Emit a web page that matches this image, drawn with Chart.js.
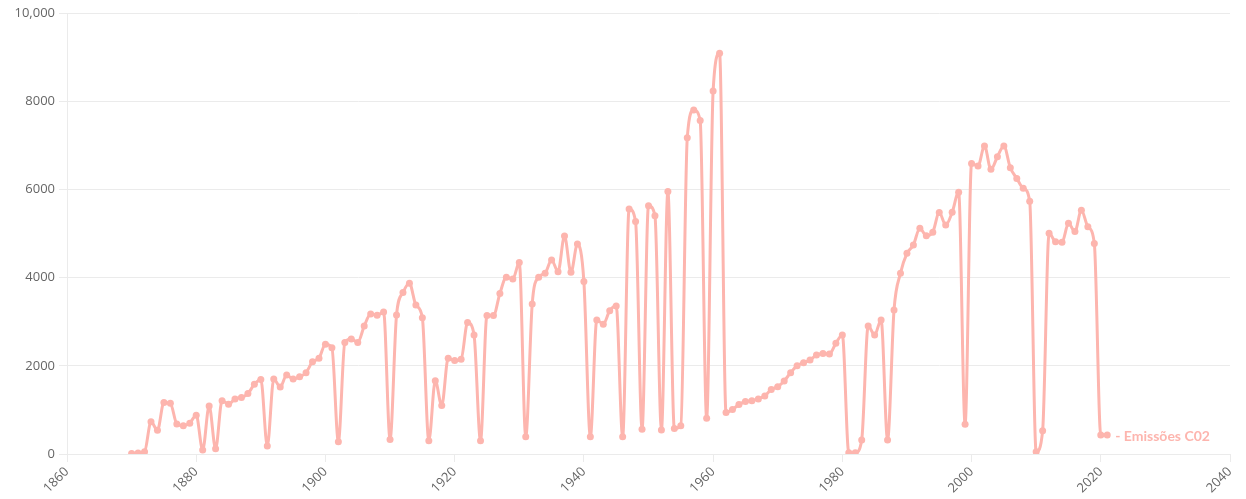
<!DOCTYPE html>
<html>
<head>
<meta charset="utf-8">
<script src="https://cdn.jsdelivr.net/npm/chart.js@4"></script>
<style>
  html, body { margin: 0; padding: 0; background: #fff; }
  #wrap { width: 1246px; height: 499px; }
</style>
</head>
<body>
<div id="wrap"><canvas id="co2Chart"></canvas></div>
<script>
    var years = [
      1870, 1871, 1872, 1873, 1874, 1875, 1876, 1877, 1878, 1879,
      1880, 1881, 1882, 1883, 1884, 1885, 1886, 1887, 1888, 1889,
      1890, 1891, 1892, 1893, 1894, 1895, 1896, 1897, 1898, 1899,
      1900, 1901, 1902, 1903, 1904, 1905, 1906, 1907, 1908, 1909,
      1910, 1911, 1912, 1913, 1914, 1915, 1916, 1917, 1918, 1919,
      1920, 1921, 1922, 1923, 1924, 1925, 1926, 1927, 1928, 1929,
      1930, 1931, 1932, 1933, 1934, 1935, 1936, 1937, 1938, 1939,
      1940, 1941, 1942, 1943, 1944, 1945, 1946, 1947, 1948, 1949,
      1950, 1951, 1952, 1953, 1954, 1955, 1956, 1957, 1958, 1959,
      1960, 1961, 1962, 1963, 1964, 1965, 1966, 1967, 1968, 1969,
      1970, 1971, 1972, 1973, 1974, 1975, 1976, 1977, 1978, 1979,
      1980, 1981, 1982, 1983, 1984, 1985, 1986, 1987, 1988, 1989,
      1990, 1991, 1992, 1993, 1994, 1995, 1996, 1997, 1998, 1999,
      2000, 2001, 2002, 2003, 2004, 2005, 2006, 2007, 2008, 2009,
      2010, 2011, 2012, 2013, 2014, 2015, 2016, 2017, 2018, 2019,
      2020, 2021
    ];
    var emissoes = [
      10, 25, 50, 730, 540, 1170, 1150, 680, 640, 700,
      880, 90, 1090, 120, 1210, 1130, 1250, 1280, 1370, 1580,
      1690, 180, 1700, 1520, 1790, 1700, 1750, 1845, 2090, 2170,
      2490, 2410, 280, 2530, 2610, 2530, 2900, 3175, 3145, 3220,
      330, 3150, 3660, 3870, 3380, 3090, 300, 1660, 1100, 2170,
      2120, 2150, 2980, 2700, 300, 3140, 3140, 3640, 4010, 3970,
      4340, 390, 3400, 4010, 4100, 4400, 4135, 4945, 4120, 4760,
      3910, 390, 3040, 2945, 3250, 3355, 390, 5555, 5270, 560,
      5630, 5400, 545, 5950, 580, 640, 7170, 7800, 7560, 810,
      8230, 9085, 940, 1010, 1120, 1190, 1210, 1250, 1315, 1465,
      1525, 1655, 1845, 2000, 2070, 2130, 2245, 2280, 2270, 2510,
      2700, 30, 30, 320, 2900, 2700, 3040, 320, 3265, 4100,
      4550, 4740, 5120, 4950, 5030, 5475, 5190, 5480, 5935, 675,
      6590, 6530, 6985, 6455, 6740, 6985, 6490, 6250, 6025, 5730,
      50, 525, 5005, 4815, 4800, 5230, 5045, 5530, 5155, 4775,
      430, 430
    ];
    var serieNome = "Emissões C02";
    var xTicks = [1860, 1880, 1900, 1920, 1940, 1960, 1980, 2000, 2020, 2040];
    var yTicks = [0, 2000, 4000, 6000, 8000, 10000];

    var cor = "#fdb5ae";

    var pontos = [];
    for (var i = 0; i < years.length; i++) {
      pontos.push({ x: years[i], y: emissoes[i] });
    }

    // nome da série escrito ao lado do último ponto
    var rotuloFinal = {
      id: 'rotuloFinal',
      afterDatasetsDraw: function (chart) {
        var meta = chart.getDatasetMeta(0);
        var ult = meta.data[meta.data.length - 1];
        var ctx = chart.ctx;
        ctx.save();
        ctx.font = "bold 14px Lato";
        ctx.fillStyle = cor;
        ctx.textBaseline = "middle";
        ctx.textAlign = "left";
        ctx.fillText("- " + serieNome, ult.x + 8, ult.y + 1);
        ctx.restore();
      }
    };

    var ctxC = document.getElementById("co2Chart").getContext('2d');
    var co2Chart = new Chart(ctxC, {
      type: 'line',
      data: {
        datasets: [{
          label: serieNome,
          data: pontos,
          borderColor: cor,
          backgroundColor: cor,
          borderWidth: 3,
          pointRadius: 3.5,
          pointBorderWidth: 0,
          pointBackgroundColor: cor,
          cubicInterpolationMode: 'monotone',
          fill: false
        }]
      },
      options: {
        responsive: true,
        maintainAspectRatio: false,
        animation: false,
        layout: { padding: { top: 13, right: 16, left: 0, bottom: 0 } },
        plugins: {
          legend: { display: false },
          tooltip: { enabled: false }
        },
        scales: {
          x: {
            type: 'linear',
            min: 1860,
            max: 2040,
            afterBuildTicks: function (s) {
              s.ticks = xTicks.map(function (v) { return { value: v }; });
            },
            afterFit: function (s) { s.height = 45; },
            grid: {
              drawOnChartArea: false,
              color: '#ebebeb',
              tickLength: 8
            },
            border: { color: '#ebebeb' },
            ticks: {
              minRotation: 45,
              maxRotation: 45,
              padding: 2,
              color: '#666',
              font: { family: 'Open Sans', size: 13 },
              callback: function (v) { return String(v); }
            }
          },
          y: {
            min: 0,
            max: 10000,
            afterBuildTicks: function (s) {
              s.ticks = yTicks.map(function (v) { return { value: v }; });
            },
            afterFit: function (s) { s.width = 67; },
            grid: {
              color: '#ebebeb',
              tickLength: 8
            },
            border: { color: '#ebebeb' },
            ticks: {
              padding: 4,
              color: '#666',
              font: { family: 'Open Sans', size: 13 },
              callback: function (v) {
                return v >= 10000 ? v.toLocaleString('en-US') : String(v);
              }
            }
          }
        }
      },
      plugins: [rotuloFinal]
    });
</script>
</body>
</html>
